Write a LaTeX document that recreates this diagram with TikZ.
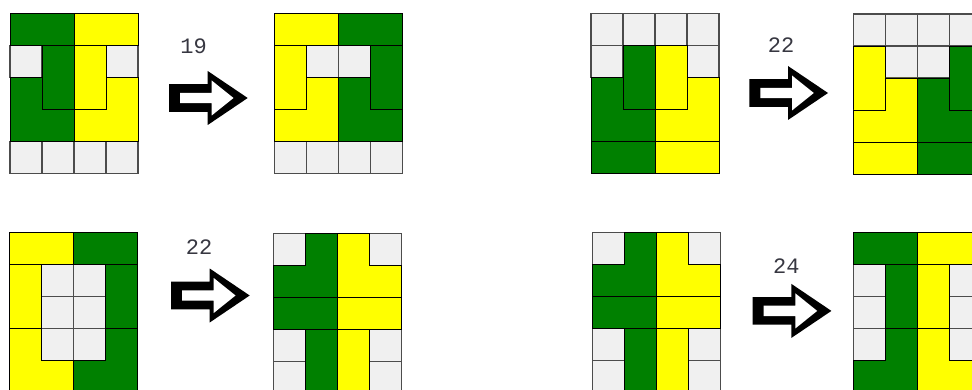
\documentclass[tikz,border=0pt]{standalone}
\usepackage{fontspec}
\newfontfamily\numfont{Liberation Mono}
\definecolor{pgreen}{RGB}{0,128,0}
\definecolor{pyellow}{RGB}{255,255,0}
\definecolor{egrey}{RGB}{240,240,240}
\definecolor{numgrey}{RGB}{55,55,65}
\tikzset{
  cellE/.style={fill=egrey, draw=black!70, line width=1.1pt},
  pieceG/.style={fill=pgreen, draw=black, line width=0.9pt},
  pieceY/.style={fill=pyellow, draw=black, line width=0.9pt},
  arrowout/.style={fill=black},
  arrowin/.style={fill=white},
  num/.style={font=\numfont\fontsize{22}{24}\selectfont, text=numgrey, inner sep=0pt},
  gridscope/.style={x=32pt, y=-32pt}
}
\newcommand\ecell[2]{\path[cellE] (#1,#2) rectangle ++(1,1);}
\newcommand\hollowarrow[2]{%
  \begin{scope}[shift={(#1,#2)}]
    \path[arrowout] (0,-13.8) -- (38.7,-13.8) -- (38.7,-27) -- (78.7,0) -- (38.7,27) -- (38.7,13.8) -- (0,13.8) -- cycle;
    \path[arrowin] (11,-5.2) -- (42.7,-5.2) -- (42.7,-17.5) -- (64.5,0) -- (42.7,17.5) -- (42.7,5.2) -- (11,5.2) -- cycle;
  \end{scope}}
\begin{document}
\begin{tikzpicture}[x=1pt, y=-1pt]
\useasboundingbox (0,0) rectangle (972,390);
\fill[white] (0,0) rectangle (972,390);

% ---------- Grid 1 ----------
\begin{scope}[shift={(10,13.3)}, gridscope]
  \ecell{0}{1}\ecell{3}{1}\ecell{0}{4}\ecell{1}{4}\ecell{2}{4}\ecell{3}{4}
  \path[pieceG] (0,0) rectangle (2,1);
  \path[pieceG] (1,1) rectangle (2,3);
  \path[pieceG] (0,2) -- (1,2) -- (1,3) -- (2,3) -- (2,4) -- (0,4) -- cycle;
  \path[pieceY] (2,0) rectangle (4,1);
  \path[pieceY] (2,1) rectangle (3,3);
  \path[pieceY] (4,2) -- (3,2) -- (3,3) -- (2,3) -- (2,4) -- (4,4) -- cycle;
\end{scope}

% ---------- Grid 2 ----------
\begin{scope}[shift={(274.3,13.3)}, gridscope]
  \ecell{1}{1}\ecell{2}{1}\ecell{0}{4}\ecell{1}{4}\ecell{2}{4}\ecell{3}{4}
  \path[pieceY] (0,0) rectangle (2,1);
  \path[pieceY] (0,1) rectangle (1,3);
  \path[pieceY] (1,2) -- (2,2) -- (2,4) -- (0,4) -- (0,3) -- (1,3) -- cycle;
  \path[pieceG] (2,0) rectangle (4,1);
  \path[pieceG] (3,1) rectangle (4,3);
  \path[pieceG] (3,2) -- (2,2) -- (2,4) -- (4,4) -- (4,3) -- (3,3) -- cycle;
\end{scope}

% ---------- Grid 3 ----------
\begin{scope}[shift={(591,13.3)}, gridscope]
  \ecell{0}{0}\ecell{1}{0}\ecell{2}{0}\ecell{3}{0}\ecell{0}{1}\ecell{3}{1}
  \path[pieceG] (1,1) rectangle (2,3);
  \path[pieceG] (0,2) -- (1,2) -- (1,3) -- (2,3) -- (2,4) -- (0,4) -- cycle;
  \path[pieceG] (0,4) rectangle (2,5);
  \path[pieceY] (2,1) rectangle (3,3);
  \path[pieceY] (4,2) -- (3,2) -- (3,3) -- (2,3) -- (2,4) -- (4,4) -- cycle;
  \path[pieceY] (2,4) rectangle (4,5);
\end{scope}

% ---------- Grid 4 ----------
\begin{scope}[shift={(853.3,14)}, gridscope]
  \ecell{0}{0}\ecell{1}{0}\ecell{2}{0}\ecell{3}{0}\ecell{1}{1}\ecell{2}{1}
  \path[pieceY] (0,1) rectangle (1,3);
  \path[pieceY] (1,2) -- (2,2) -- (2,4) -- (0,4) -- (0,3) -- (1,3) -- cycle;
  \path[pieceY] (0,4) rectangle (2,5);
  \path[pieceG] (3,1) rectangle (4,3);
  \path[pieceG] (3,2) -- (2,2) -- (2,4) -- (4,4) -- (4,3) -- (3,3) -- cycle;
  \path[pieceG] (2,4) rectangle (4,5);
\end{scope}

% ---------- Grid 5 ----------
\begin{scope}[shift={(9.3,232.3)}, gridscope]
  \ecell{1}{1}\ecell{2}{1}\ecell{1}{2}\ecell{2}{2}\ecell{1}{3}\ecell{2}{3}
  \path[pieceY] (0,0) rectangle (2,1);
  \path[pieceY] (0,1) rectangle (1,3);
  \path[pieceY] (0,3) -- (1,3) -- (1,4) -- (2,4) -- (2,5) -- (0,5) -- cycle;
  \path[pieceG] (2,0) rectangle (4,1);
  \path[pieceG] (3,1) rectangle (4,3);
  \path[pieceG] (4,3) -- (3,3) -- (3,4) -- (2,4) -- (2,5) -- (4,5) -- cycle;
\end{scope}

% ---------- Grid 6 ----------
\begin{scope}[shift={(273.3,233.3)}, gridscope]
  \ecell{0}{0}\ecell{3}{0}\ecell{0}{3}\ecell{3}{3}\ecell{0}{4}\ecell{3}{4}
  \path[pieceG] (1,0) -- (2,0) -- (2,2) -- (0,2) -- (0,1) -- (1,1) -- cycle;
  \path[pieceG] (0,2) rectangle (2,3);
  \path[pieceG] (1,3) rectangle (2,5);
  \path[pieceY] (3,0) -- (2,0) -- (2,2) -- (4,2) -- (4,1) -- (3,1) -- cycle;
  \path[pieceY] (2,2) rectangle (4,3);
  \path[pieceY] (2,3) rectangle (3,5);
\end{scope}

% ---------- Grid 7 ----------
\begin{scope}[shift={(592.3,232.3)}, gridscope]
  \ecell{0}{0}\ecell{3}{0}\ecell{0}{3}\ecell{3}{3}\ecell{0}{4}\ecell{3}{4}
  \path[pieceG] (1,0) -- (2,0) -- (2,2) -- (0,2) -- (0,1) -- (1,1) -- cycle;
  \path[pieceG] (0,2) rectangle (2,3);
  \path[pieceG] (1,3) rectangle (2,5);
  \path[pieceY] (3,0) -- (2,0) -- (2,2) -- (4,2) -- (4,1) -- (3,1) -- cycle;
  \path[pieceY] (2,2) rectangle (4,3);
  \path[pieceY] (2,3) rectangle (3,5);
\end{scope}

% ---------- Grid 8 ----------
\begin{scope}[shift={(853.3,232.7)}, gridscope]
  \ecell{0}{1}\ecell{0}{2}\ecell{0}{3}\ecell{3}{1}\ecell{3}{2}\ecell{3}{3}
  \path[pieceG] (0,0) rectangle (2,1);
  \path[pieceG] (1,1) rectangle (2,3);
  \path[pieceG] (1,3) -- (2,3) -- (2,5) -- (0,5) -- (0,4) -- (1,4) -- cycle;
  \path[pieceY] (2,0) rectangle (4,1);
  \path[pieceY] (2,1) rectangle (3,3);
  \path[pieceY] (3,3) -- (2,3) -- (2,5) -- (4,5) -- (4,4) -- (3,4) -- cycle;
\end{scope}

% ---------- Arrows ----------
\hollowarrow{169}{98}
\hollowarrow{749.3}{93}
\hollowarrow{171}{295.5}
\hollowarrow{752.7}{310.9}

% ---------- Numbers ----------
\node[num] (n19) at (193.5,46.7) {19};
\node[num] (n22a) at (781,44.7) {22};
\node[num] (n22b) at (199.2,246.7) {22};
\node[num] (n24) at (786.3,266) {24};
\end{tikzpicture}
\end{document}
